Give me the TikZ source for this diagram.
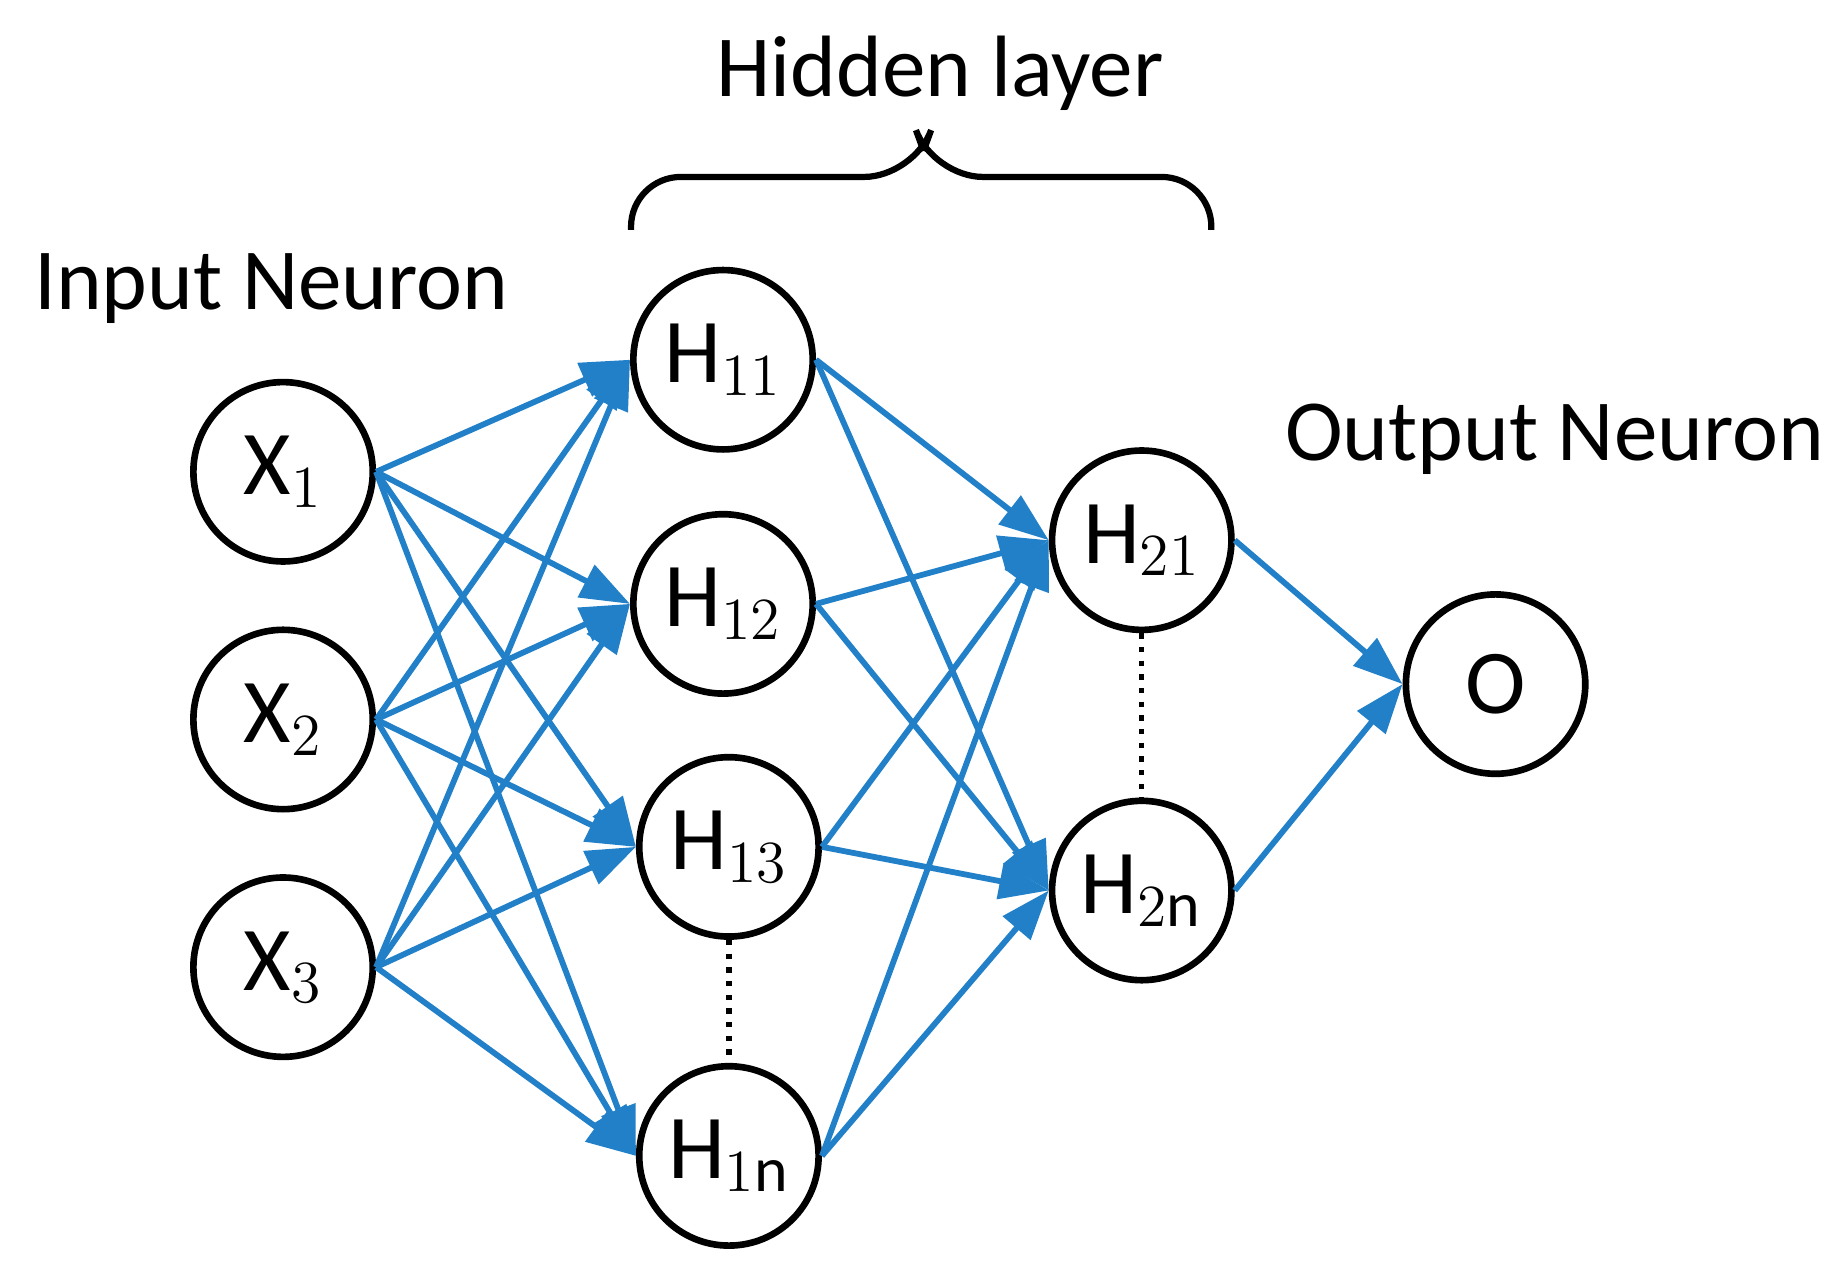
\documentclass[tikz,border=0pt]{standalone}
\usepackage{fontspec}
\setmainfont{Carlito}
\usetikzlibrary{arrows.meta}
\definecolor{eb}{RGB}{33,128,200}
\begin{document}
\begin{tikzpicture}[x=0.01cm,y=-0.01cm,
  neuron/.style={circle,draw,line width=1.6pt,minimum size=1.52cm,inner sep=0pt,font=\fontsize{22}{24}\selectfont},
  lbl/.style={font=\fontsize{21}{24}\selectfont},
  edge/.style={draw=eb,line width=1.4pt,-{Triangle[length=0.42cm,width=0.3cm]}}]
\useasboundingbox (0,0) rectangle (1560,1085);
\node[neuron] (x1) at (240,400) {X$_1$};
\node[neuron] (x2) at (240,610) {X$_2$};
\node[neuron] (x3) at (240,820) {X$_3$};
\node[neuron] (h11) at (613,305) {H$_{11}$};
\node[neuron] (h12) at (613,512) {H$_{12}$};
\node[neuron] (h13) at (618,718) {H$_{13}$};
\node[neuron] (h1n) at (618,980) {H$_{1\mathrm{n}}$};
\node[neuron] (h21) at (968,458) {H$_{21}$};
\node[neuron] (h2n) at (968,755) {H$_{2\mathrm{n}}$};
\node[neuron] (o) at (1268,580) {O};
\node[lbl] (tin) at (230,245) {Input Neuron};
\node[lbl] (thid) at (797,62) {Hidden layer};
\node[lbl] (tout) at (1318,372) {Output Neuron};
\foreach \a in {x1,x2,x3}{\foreach \b in {h11,h12,h13,h1n}{\path[edge] (\a.east) -- (\b.west);}}
\foreach \a in {h11,h12,h13,h1n}{\foreach \b in {h21,h2n}{\path[edge] (\a.east) -- (\b.west);}}
\path[edge] (h21.east) -- (o.west);
\path[edge] (h2n.east) -- (o.west);
\draw[dotted,line width=1.3pt] (h13.south) -- (h1n.north);
\draw[dotted,line width=1.3pt] (h21.south) -- (h2n.north);
\coordinate (bl) at (535,195);
\coordinate (br) at (1027,195);
\coordinate (bt) at (783,128);
\draw[line width=1.5pt,rounded corners=12pt] (bl) -- (535,150) -- (775,150) -- (783,128);
\draw[line width=1.5pt,rounded corners=12pt] (br) -- (1027,150) -- (791,150) -- (783,128);
\end{tikzpicture}
\end{document}
